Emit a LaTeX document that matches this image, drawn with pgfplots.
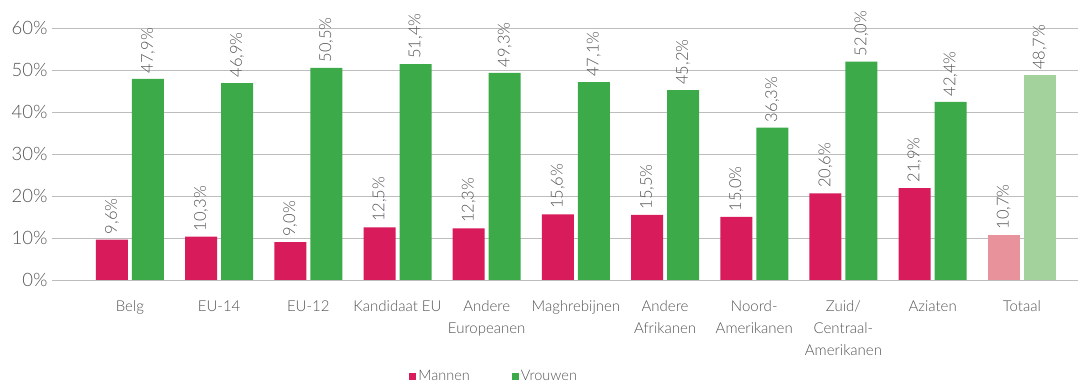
\documentclass[border=0pt]{standalone}
\usepackage{pgfplots}
\pgfplotsset{compat=1.18}
\usepackage{fontspec}
\setmainfont{Lato Light}
\definecolor{manred}{HTML}{D81B5A}
\definecolor{vrgreen}{HTML}{3CAA48}
\definecolor{manlight}{HTML}{E8939C}
\definecolor{vrlight}{HTML}{A4D29C}
\definecolor{txtgray}{HTML}{555555}
\definecolor{gridgray}{HTML}{BDBDBD}
\begin{document}
\begin{tikzpicture}
\begin{axis}[
  name=ax,
  scale only axis,
  width=1026pt, height=252pt,
  xmin=-0.874, xmax=10.63,
  ymin=0, ymax=60,
  ytick={0,10,20,30,40,50,60},
  yticklabel={\pgfmathprintnumber{\tick}\%},
  /pgf/number format/assume math mode=true,
  ymajorgrids,
  grid style={gridgray, line width=0.9pt},
  axis line style={draw=none},
  tick style={draw=none},
  xtick={0,1,2,3,4,5,6,7,8,9,10},
  xticklabels={Belg,EU-14,EU-12,Kandidaat EU,Andere\\Europeanen,Maghrebijnen,Andere\\Afrikanen,Noord-\\Amerikanen,Zuid/\\Centraal-\\Amerikanen,Aziaten,Totaal},
  xticklabel style={align=center, font=\fontsize{15}{22}\selectfont, text=txtgray, yshift=-13pt},
  yticklabel style={font=\fontsize{18.5}{20}\selectfont, text=txtgray, xshift=-1pt},
  ybar, bar width=32pt,
  clip=false,
  nodes near coords={\pgfmathprintnumber[fixed,fixed zerofill,precision=1,use comma]{\pgfplotspointmeta}\%},
  nodes near coords style={rotate=90, anchor=west, font=\fontsize{16.5}{18}\selectfont, text=txtgray, xshift=2pt},
  legend style={at={(0.431,-0.38)}, anchor=center, draw=none, fill=none, legend columns=2, font=\fontsize{14.5}{16}\selectfont, text=txtgray, /tikz/every even column/.append style={column sep=40pt}},
  legend image code/.code={\fill[#1] (0pt,-4pt) rectangle (7pt,3pt);},
]
\addplot[fill=manred, draw=none, bar shift=-18pt] coordinates {(0,9.6) (1,10.3) (2,9.0) (3,12.5) (4,12.3) (5,15.6) (6,15.5) (7,15.0) (8,20.6) (9,21.9)};
\addlegendentry{Mannen}
\addplot[fill=vrgreen, draw=none, bar shift=18pt] coordinates {(0,47.9) (1,46.9) (2,50.5) (3,51.4) (4,49.3) (5,47.1) (6,45.2) (7,36.3) (8,52.0) (9,42.4)};
\addlegendentry{Vrouwen}
\addplot[fill=manlight, draw=none, bar shift=-18pt, forget plot] coordinates {(10,10.7)};
\addplot[fill=vrlight, draw=none, bar shift=18pt, forget plot] coordinates {(10,48.7)};
\end{axis}
\pgfresetboundingbox
\path ([xshift=-52pt,yshift=-105pt]ax.south west) rectangle ([xshift=2pt,yshift=28pt]ax.north east);
\end{tikzpicture}
\end{document}
